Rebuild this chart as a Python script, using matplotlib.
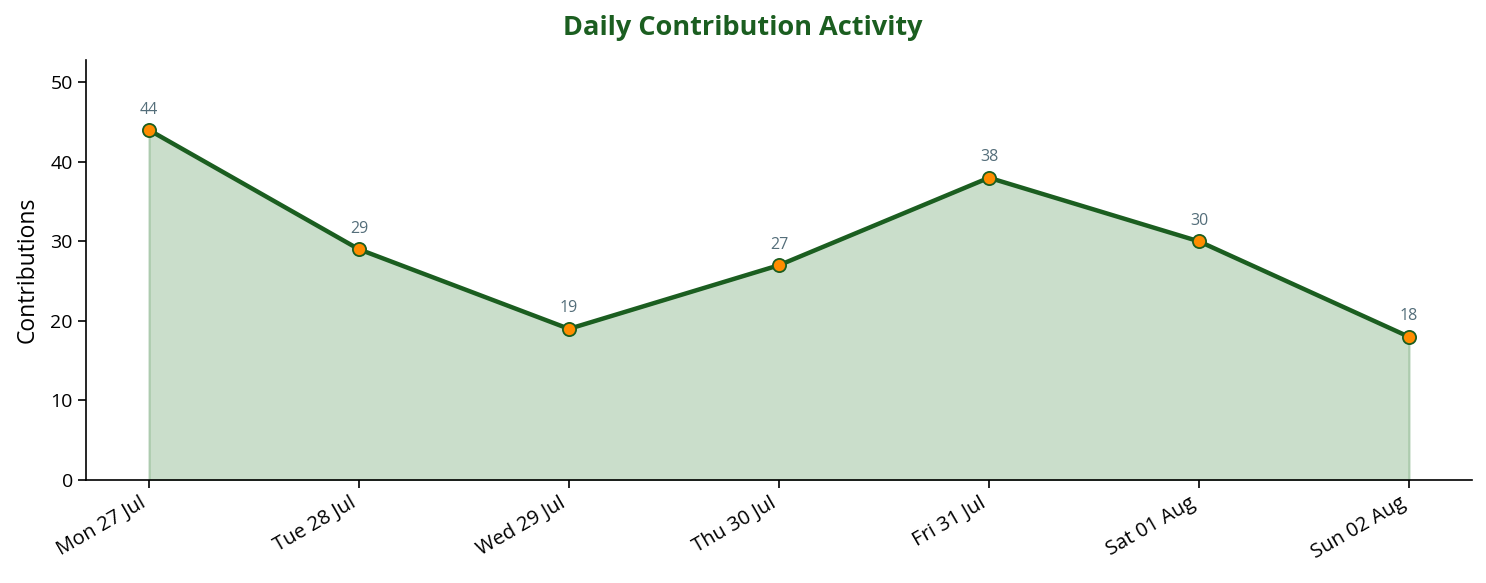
import matplotlib
matplotlib.use("Agg")
import matplotlib.pyplot as plt

days = ["Mon 27 Jul", "Tue 28 Jul", "Wed 29 Jul", "Thu 30 Jul", "Fri 31 Jul", "Sat 01 Aug", "Sun 02 Aug"]
contributions = [44, 29, 19, 27, 38, 30, 18]

plt.rcParams['font.family'] = ['Open Sans', 'DejaVu Sans']

fig = plt.figure(figsize=(14.86, 5.83), dpi=100)
ax = fig.add_axes([86/1486, 1 - 480/583, (1472-86)/1486, (480-60)/583])

x = list(range(len(days)))
ax.fill_between(x, contributions, 0, facecolor=(0.18, 0.49, 0.196, 0.25),
                edgecolor=(0.18, 0.49, 0.196, 0.3), linewidth=1.5)
ax.plot(x, contributions, color='#1b5e20', linewidth=3.2, marker='o', markersize=9.5,
        markerfacecolor='#ff8c00', markeredgecolor='#1b5e20', markeredgewidth=1.3, zorder=3)
for xi, v in zip(x, contributions):
    ax.annotate(str(v), (xi, v), xytext=(0, 9), textcoords='offset points',
                ha='center', va='bottom', fontsize=11.5, color='#546e7a')

ax.set_xlim(-0.3, 6.3)
ax.set_ylim(0, 52.8)
ax.set_xticks(x)
ax.set_xticklabels(days, rotation=30, ha='right', fontsize=14.5)
ax.tick_params(axis='y', labelsize=14)
ax.tick_params(axis='both', length=6, width=1.2)
for s in ('left', 'bottom'):
    ax.spines[s].set_linewidth(1.2)
ax.set_ylabel('Contributions', fontsize=16.5, labelpad=8)
ax.spines['top'].set_visible(False)
ax.spines['right'].set_visible(False)
fig.suptitle('Daily Contribution Activity', fontsize=19.5, fontweight='bold', color='#1b5e20', y=0.975)

fig.savefig('out.png', dpi=100)
